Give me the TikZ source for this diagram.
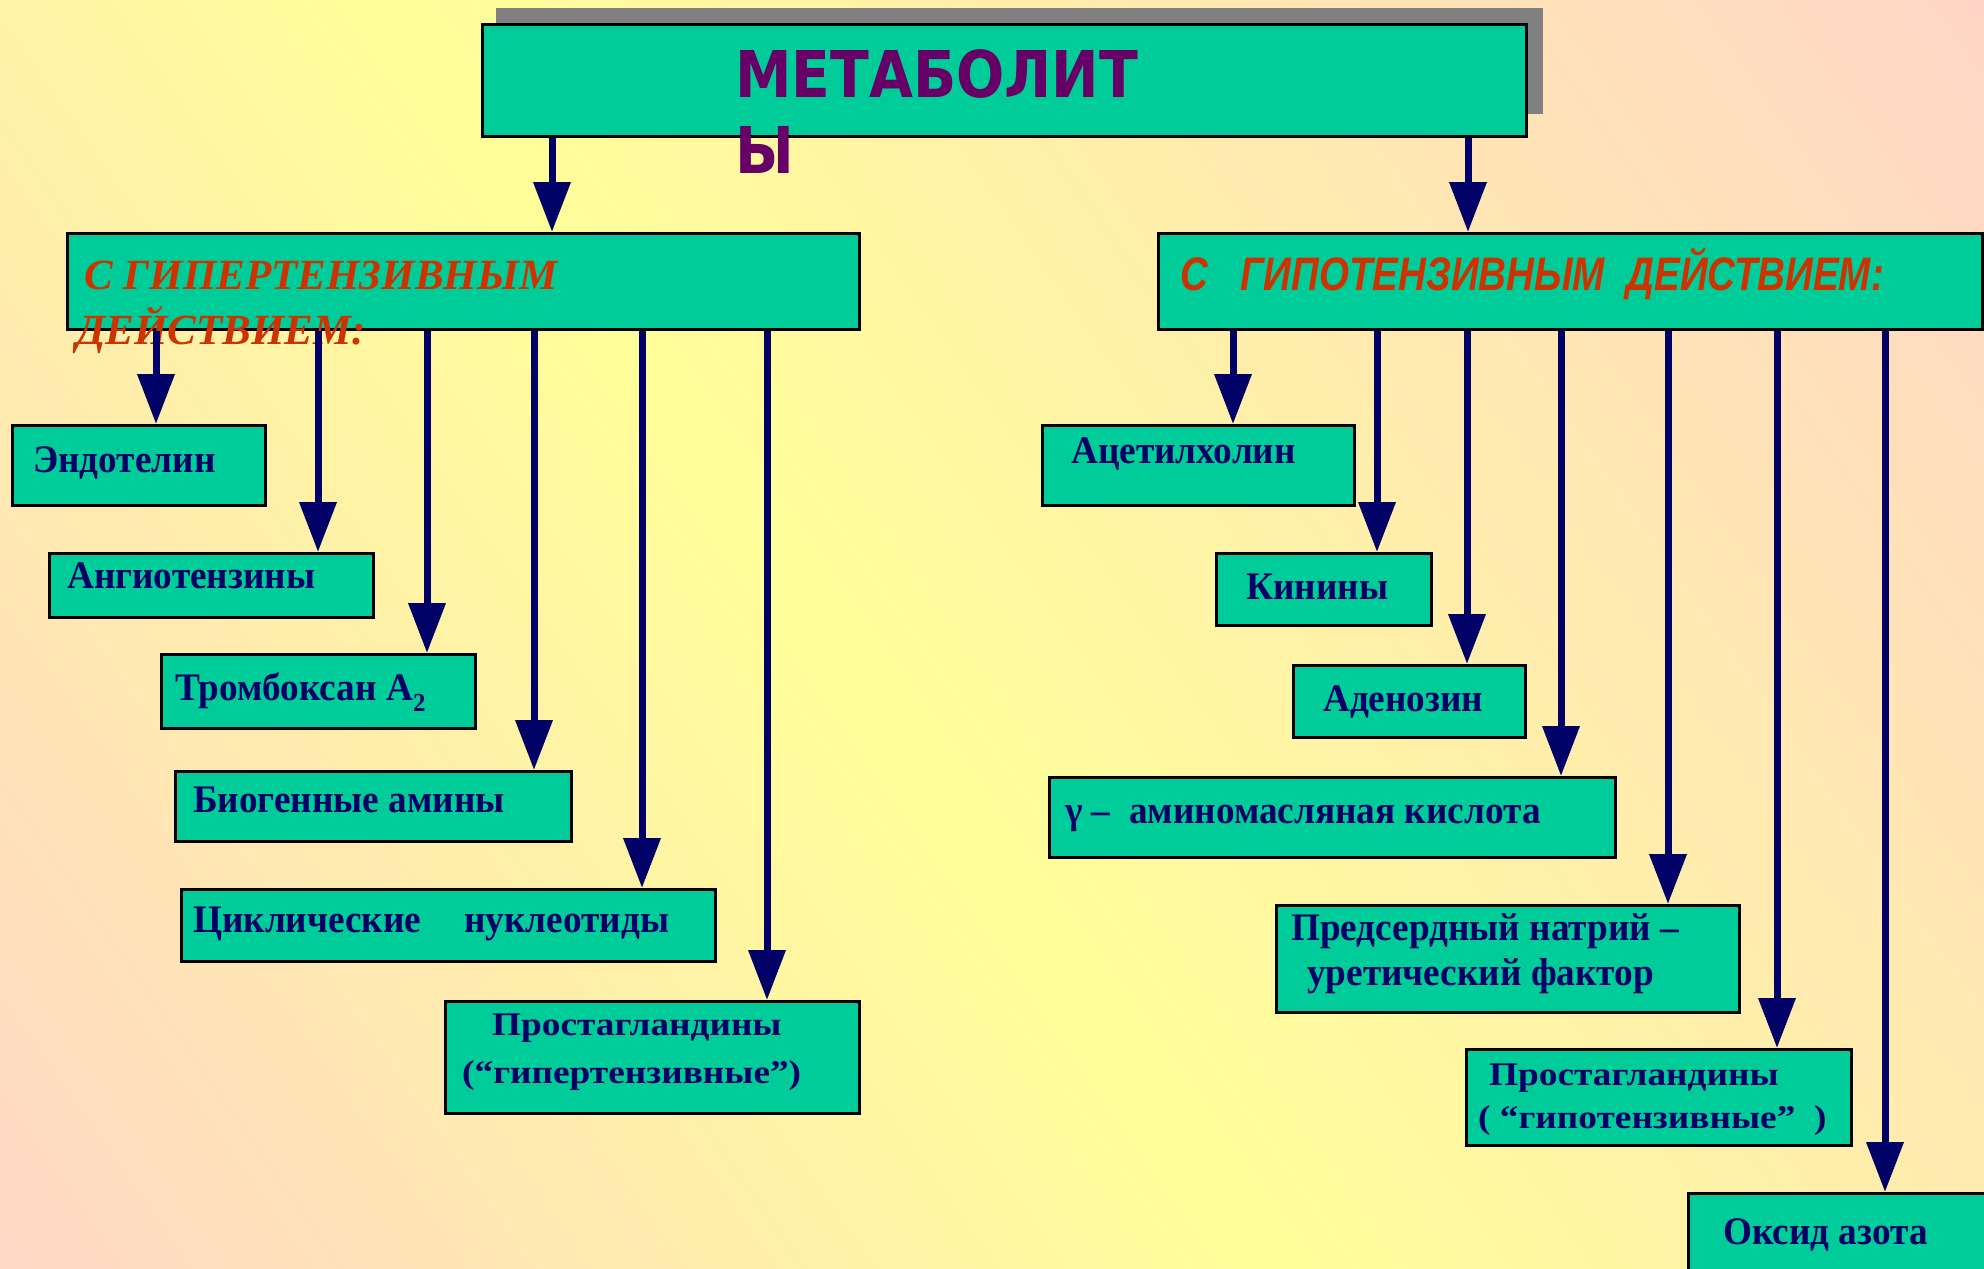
\documentclass[tikz,border=0pt]{standalone}
\usepackage{fontspec}
\usepackage{graphicx}
\setmainfont{Liberation Serif}
\newfontfamily\lblfont{Liberation Serif}[FakeStretch=0.955]
\newfontfamily\lblwide{Liberation Serif}[FakeStretch=1.13]
\newfontfamily\titlefont{DejaVu Sans}[FakeStretch=0.88]
\newfontfamily\hypofont{Liberation Sans}[FakeStretch=0.82]
\usetikzlibrary{arrows.meta}
\definecolor{bggreen}{RGB}{0,204,153}
\definecolor{txtnavy}{RGB}{0,0,102}
\definecolor{arrnavy}{RGB}{0,0,102}
\definecolor{headred}{RGB}{204,51,0}
\definecolor{titlepurple}{RGB}{102,0,102}
\definecolor{shadowgray}{RGB}{128,128,128}
\definecolor{bgyellow}{RGB}{255,255,153}
\definecolor{bgpink}{RGB}{255,212,200}
\tikzset{
  box/.style={draw=black, line width=3pt, fill=bggreen, inner sep=0pt, anchor=north west},
  arr/.style={draw=arrnavy, line width=7pt, -{Triangle[width=36pt,length=50pt]}},
  lbl/.style={inner sep=0pt, anchor=base west, text=txtnavy, font=\lblfont\bfseries\fontsize{39}{45}\selectfont},
  lbls/.style={lbl, font=\lblwide\bfseries\fontsize{33}{38}\selectfont},
  hyper/.style={inner sep=0pt, anchor=base west, text=headred, font=\bfseries\itshape\fontsize{43}{50}\selectfont},
  hypo/.style={inner sep=0pt, anchor=base west, text=headred, font=\hypofont\bfseries\itshape\fontsize{47}{55}\selectfont},
  ttl/.style={inner sep=0pt, anchor=base west, text=titlepurple, font=\titlefont\bfseries\fontsize{64.5}{75}\selectfont},
}
\newcommand\mybox[5]{\node[box, minimum width={#4-#2}, minimum height={#5-#3}] (#1) at (#2,#3) {};}
\begin{document}
\begin{tikzpicture}[x=1pt,y=-1pt]
\useasboundingbox (0,0) rectangle (1984,1269);
% background gradient
\begin{scope}
\clip (0,0) rectangle (1984,1269);
\begin{scope}[transform canvas={rotate around={35:(822,634)}}]
\fill[bgpink] (-1800,-1400) rectangle (-278,2700);
\shade[left color=bgpink,right color=bgyellow] (-278,-1400) rectangle (822,2700);
\shade[left color=bgyellow,right color=bgpink] (822,-1400) rectangle (2172,2700);
\fill[bgpink] (2172,-1400) rectangle (3400,2700);
\end{scope}
\end{scope}
% shadow and boxes
\node[fill=shadowgray, inner sep=0pt, anchor=north west, minimum width=1047, minimum height=106] (shadow) at (496,8) {};
\mybox{top}{481}{23}{1525}{135}
\mybox{lmid}{66}{232}{858}{328}
\mybox{rmid}{1157}{232}{1981}{328}
\mybox{endo}{11}{424}{264}{504}
\mybox{angio}{48}{552}{372}{616}
\mybox{tromb}{160}{653}{474}{727}
\mybox{biog}{174}{770}{570}{840}
\mybox{cycl}{180}{888}{714}{960}
\mybox{pgl}{444}{1000}{858}{1112}
\mybox{acet}{1041}{424}{1353}{504}
\mybox{kin}{1215}{552}{1430}{624}
\mybox{aden}{1292}{664}{1524}{736}
\mybox{gaba}{1048}{776}{1614}{856}
\mybox{anp}{1275}{904}{1738}{1011}
\mybox{pgr}{1465}{1048}{1850}{1144}
\mybox{no}{1687}{1192}{2000}{1300}
% texts
\node[ttl] (t1) at (735,97) {МЕТАБОЛИТ};
\node[ttl] (t2) at (735,173) {Ы};
\node[hyper] (h1a) at (84,289) {С ГИПЕРТЕНЗИВНЫМ};
\node[hyper] (h1b) at (76,344) {ДЕЙСТВИЕМ:};
\node[hypo] (h2) at (1180,290) {С\ \ \ ГИПОТЕНЗИВНЫМ\ \ ДЕЙСТВИЕМ:};
\node[lbl] (tendo) at (33,472) {Эндотелин};
\node[lbl] (tangio) at (67,588) {Ангиотензины};
\node[lbl] (ttromb) at (175,700) {Тромбоксан A\raisebox{-11pt}{\fontsize{26}{26}\selectfont 2}};
\node[lbl] (tbiog) at (193,812) {Биогенные амины};
\node[lbl] (tcycl) at (193,932) {Циклические\hspace{43pt}нуклеотиды};
\node[lbls] (tpgl1) at (492,1035) {Простагландины};
\node[lbls] (tpgl2) at (462,1083) {(“гипертензивные”)};
\node[lbl] (tacet) at (1071,463) {Ацетилхолин};
\node[lbl] (tkin) at (1246,599) {Кинины};
\node[lbl] (taden) at (1323,711) {Аденозин};
\node[lbl] (tgaba) at (1065,823) {γ –\ \ аминомасляная кислота};
\node[lbl] (tanp1) at (1291,940) {Предсердный натрий –};
\node[lbl] (tanp2) at (1307,985) {уретический фактор};
\node[lbls] (tpgr1) at (1489,1085) {Простагландины};
\node[lbls] (tpgr2) at (1478,1128) {( “гипотензивные”\ \ )};
\node[lbl] (tno) at (1723,1244) {Оксид азота};
% arrow columns
\foreach \n/\x in {c1/552,c2/1468,l1/156,l2/318,l3/427,l4/534,l5/642,l6/767,r1/1233,r2/1377,r3/1467,r4/1561,r5/1668,r6/1777,r7/1885}
  \coordinate (\n) at (\x,0);
\draw[arr] (top.south -| c1) -- (lmid.north -| c1);
\draw[arr] (top.south -| c2) -- (rmid.north -| c2);
\draw[arr] (lmid.south -| l1) -- (endo.north -| l1);
\draw[arr] (lmid.south -| l2) -- (angio.north -| l2);
\draw[arr] (lmid.south -| l3) -- (tromb.north -| l3);
\draw[arr] (lmid.south -| l4) -- (biog.north -| l4);
\draw[arr] (lmid.south -| l5) -- (cycl.north -| l5);
\draw[arr] (lmid.south -| l6) -- (pgl.north -| l6);
\draw[arr] (rmid.south -| r1) -- (acet.north -| r1);
\draw[arr] (rmid.south -| r2) -- (kin.north -| r2);
\draw[arr] (rmid.south -| r3) -- (aden.north -| r3);
\draw[arr] (rmid.south -| r4) -- (gaba.north -| r4);
\draw[arr] (rmid.south -| r5) -- (anp.north -| r5);
\draw[arr] (rmid.south -| r6) -- (pgr.north -| r6);
\draw[arr] (rmid.south -| r7) -- (no.north -| r7);
\end{tikzpicture}
\end{document}
